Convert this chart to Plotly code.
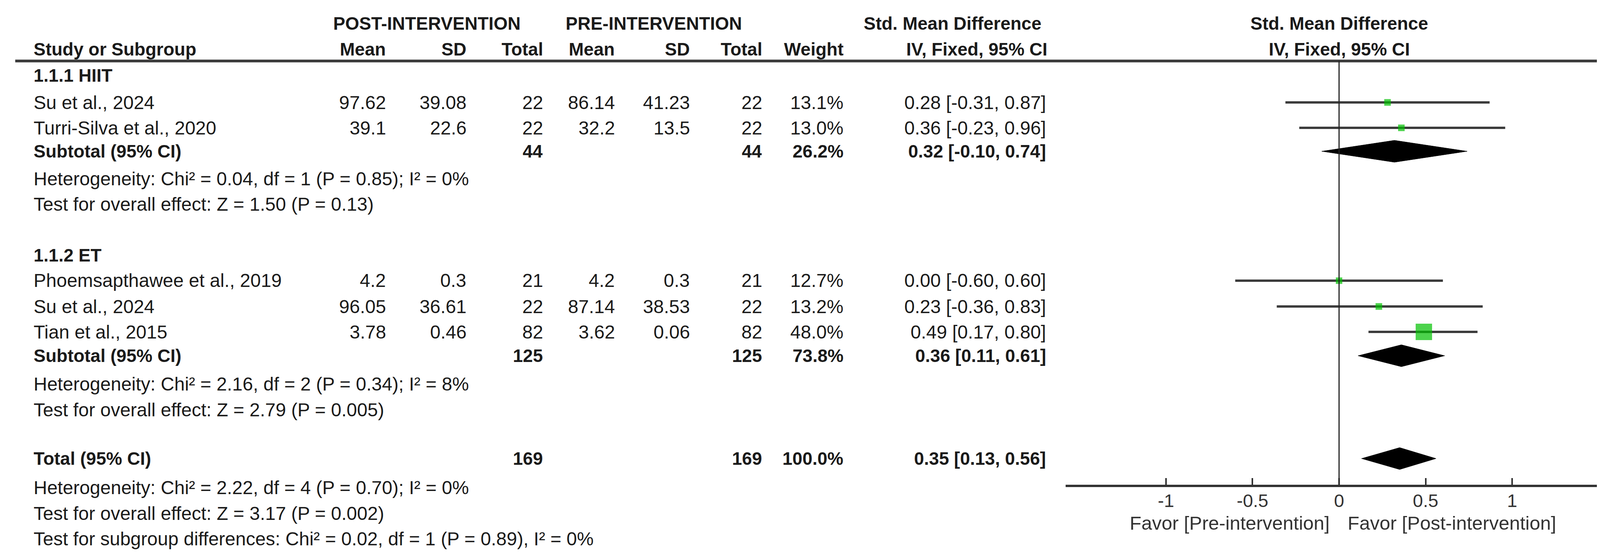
import plotly.graph_objects as go

W, H = 4195, 1430

# ---- data ----
hiit_studies = ["Su et al., 2024", "Turri-Silva et al., 2020"]
hiit_post_mean = [97.62, 39.1]
hiit_post_sd = [39.08, 22.6]
hiit_post_n = [22, 22]
hiit_pre_mean = [86.14, 32.2]
hiit_pre_sd = [41.23, 13.5]
hiit_pre_n = [22, 22]
hiit_weight = [13.1, 13.0]
hiit_smd = [0.28, 0.36]
hiit_lo = [-0.31, -0.23]
hiit_hi = [0.87, 0.96]

et_studies = ["Phoemsapthawee et al., 2019", "Su et al., 2024", "Tian et al., 2015"]
et_post_mean = [4.2, 96.05, 3.78]
et_post_sd = [0.3, 36.61, 0.46]
et_post_n = [21, 22, 82]
et_pre_mean = [4.2, 87.14, 3.62]
et_pre_sd = [0.3, 38.53, 0.06]
et_pre_n = [21, 22, 82]
et_weight = [12.7, 13.2, 48.0]
et_smd = [0.00, 0.23, 0.49]
et_lo = [-0.60, -0.36, 0.17]
et_hi = [0.60, 0.83, 0.80]

pooled_labels = ["Subtotal (95% CI)", "Subtotal (95% CI)", "Total (95% CI)"]
pooled_post_n = [44, 125, 169]
pooled_pre_n = [44, 125, 169]
pooled_weight = [26.2, 73.8, 100.0]
pooled_smd = [0.32, 0.36, 0.35]
pooled_lo = [-0.10, 0.11, 0.13]
pooled_hi = [0.74, 0.61, 0.56]

group_titles = ["1.1.1 HIIT", "1.1.2 ET"]
stats_lines = [
    ["Heterogeneity: Chi² = 0.04, df = 1 (P = 0.85); I² = 0%",
     "Test for overall effect: Z = 1.50 (P = 0.13)"],
    ["Heterogeneity: Chi² = 2.16, df = 2 (P = 0.34); I² = 8%",
     "Test for overall effect: Z = 2.79 (P = 0.005)"],
    ["Heterogeneity: Chi² = 2.22, df = 4 (P = 0.70); I² = 0%",
     "Test for overall effect: Z = 3.17 (P = 0.002)",
     "Test for subgroup differences: Chi² = 0.02, df = 1 (P = 0.89), I² = 0%"],
]

tick_vals = [-1, -0.5, 0, 0.5, 1]
tick_text = ["-1", "-0.5", "0", "0.5", "1"]
favor_left = "Favor [Pre-intervention]"
favor_right = "Favor [Post-intervention]"

# ---- layout (pixel rows / columns) ----
FONT = "Liberation Sans, Arial, sans-serif"
FS = 48      # regular rows
FS_B = 46    # bold rows / headers
TXT = "#1a1a1a"
GREEN = "#00c000"
CI_COL = "#3c3c3c"

hiit_title_y = 185
hiit_rows_y = [254, 319]
et_title_y = 645
et_rows_y = [710, 776, 841]
pooled_y = [379, 902, 1165]
stats_y = [[449, 514], [974, 1040], [1239, 1305, 1370]]
axis_y = 1232
head_line_y = 148

COL_LEFT = 76
COL_POST_MEAN = 982
COL_POST_SD = 1188
COL_POST_N = 1384
COL_PRE_MEAN = 1568
COL_PRE_SD = 1760
COL_PRE_N = 1945
COL_WEIGHT = 2153
COL_CI = 2672

AX_L, AX_R = 2720, 4120
X_MIN, X_MAX = -1.58, 1.58


def px(x):
    return x / W


def py(y):
    return 1 - y / H


annotations = []


def txt(x, y, s, anchor="left", bold=False, size=None, color=TXT):
    if size is None:
        size = FS_B if bold else FS
    if bold:
        s = "<b>" + s + "</b>"
    annotations.append(dict(
        x=px(x), y=py(y), xref="paper", yref="paper", text=s,
        xanchor=anchor, yanchor="middle", showarrow=False,
        font=dict(family=FONT, size=size, color=color),
    ))


def fmt_ci(es, lo, hi):
    return f"{es:.2f} [{lo:.2f}, {hi:.2f}]"


# headers
txt(1085, 52, "POST-INTERVENTION", "center", True)
txt(1666, 52, "PRE-INTERVENTION", "center", True)
txt(2660, 52, "Std. Mean Difference", "right", True)
txt(3420, 52, "Std. Mean Difference", "center", True)
txt(COL_LEFT, 118, "Study or Subgroup", "left", True)
for col, lab in [(COL_POST_MEAN, "Mean"), (COL_POST_SD, "SD"), (COL_POST_N, "Total"),
                 (COL_PRE_MEAN, "Mean"), (COL_PRE_SD, "SD"), (COL_PRE_N, "Total"),
                 (COL_WEIGHT, "Weight"), (2675, "IV, Fixed, 95% CI")]:
    txt(col, 118, lab, "right", True)
txt(3420, 118, "IV, Fixed, 95% CI", "center", True)

groups = [
    (hiit_studies, hiit_post_mean, hiit_post_sd, hiit_post_n, hiit_pre_mean,
     hiit_pre_sd, hiit_pre_n, hiit_weight, hiit_smd, hiit_lo, hiit_hi, hiit_rows_y),
    (et_studies, et_post_mean, et_post_sd, et_post_n, et_pre_mean,
     et_pre_sd, et_pre_n, et_weight, et_smd, et_lo, et_hi, et_rows_y),
]

txt(COL_LEFT, hiit_title_y, group_titles[0], bold=True)
txt(COL_LEFT, et_title_y, group_titles[1], bold=True)

ci_x, ci_y = [], []
pt_x, pt_y, pt_size = [], [], []
for (names, pm, psd, pn, qm, qsd, qn, wt, es, lo, hi, rows) in groups:
    for i, name in enumerate(names):
        y = rows[i]
        txt(COL_LEFT, y, name)
        txt(COL_POST_MEAN, y, str(pm[i]), "right")
        txt(COL_POST_SD, y, str(psd[i]), "right")
        txt(COL_POST_N, y, str(pn[i]), "right")
        txt(COL_PRE_MEAN, y, str(qm[i]), "right")
        txt(COL_PRE_SD, y, str(qsd[i]), "right")
        txt(COL_PRE_N, y, str(qn[i]), "right")
        txt(COL_WEIGHT, y, f"{wt[i]:.1f}%", "right")
        txt(COL_CI, y, fmt_ci(es[i], lo[i], hi[i]), "right")
        ci_x += [lo[i], hi[i], None]
        ci_y += [y, y, None]
        pt_x.append(es[i])
        pt_y.append(y)
        pt_size.append(42 * (wt[i] / 48.0) ** 0.7)

for k, lab in enumerate(pooled_labels):
    y = pooled_y[k]
    txt(COL_LEFT, y, lab, bold=True)
    txt(COL_POST_N, y, str(pooled_post_n[k]), "right", True)
    txt(COL_PRE_N, y, str(pooled_pre_n[k]), "right", True)
    txt(COL_WEIGHT, y, f"{pooled_weight[k]:.1f}%", "right", True)
    txt(COL_CI, y, fmt_ci(pooled_smd[k], pooled_lo[k], pooled_hi[k]), "right", True)

for lines, ys in zip(stats_lines, stats_y):
    for s, y in zip(lines, ys):
        txt(COL_LEFT, y, s)

txt(3398, 1330, favor_left, "right", size=49, color="#333333")
txt(3440, 1330, favor_right, "left", size=49, color="#333333")

fig = go.Figure()

fig.add_trace(go.Scatter(
    x=ci_x, y=ci_y, mode="lines", xaxis="x2", yaxis="y2",
    line=dict(color=CI_COL, width=6), hoverinfo="skip",
))
fig.add_trace(go.Scatter(
    x=pt_x, y=pt_y, mode="markers", xaxis="x2", yaxis="y2",
    marker=dict(symbol="square", size=pt_size, color=GREEN, line=dict(width=0)),
))

HALF_H = 28
for k in range(len(pooled_smd)):
    y = pooled_y[k]
    fig.add_trace(go.Scatter(
        x=[pooled_lo[k], pooled_smd[k], pooled_hi[k], pooled_smd[k], pooled_lo[k]],
        y=[y, y - HALF_H, y, y + HALF_H, y],
        mode="lines", fill="toself", fillcolor="black",
        line=dict(color="black", width=1), xaxis="x2", yaxis="y2",
    ))

shapes = [
    dict(type="line", xref="paper", yref="paper", x0=px(31), x1=px(4162),
         y0=py(head_line_y), y1=py(head_line_y), line=dict(color="#3a3a3a", width=7)),
    dict(type="line", xref="x2", yref="paper", x0=0, x1=0,
         y0=py(head_line_y), y1=py(axis_y), line=dict(color="#222222", width=3)),
]

fig.update_layout(
    width=W, height=H, autosize=False,
    margin=dict(l=0, r=0, t=0, b=0, pad=0),
    paper_bgcolor="white", plot_bgcolor="white",
    showlegend=False,
    annotations=annotations,
    shapes=shapes,
    xaxis2=dict(
        domain=[px(AX_L), px(AX_R)], range=[X_MIN, X_MAX], anchor="y2",
        showgrid=False, zeroline=False, showline=True, linewidth=6, linecolor="#333333",
        ticks="inside", ticklen=17, tickwidth=4, tickcolor="#333333",
        tickvals=tick_vals, ticktext=tick_text, ticklabelstandoff=-5,
        tickfont=dict(family=FONT, size=47, color="#333333"),
    ),
    yaxis2=dict(
        domain=[py(axis_y), 1], range=[axis_y, 0], anchor="x2",
        visible=False, showgrid=False, zeroline=False,
    ),
    xaxis=dict(visible=False),
    yaxis=dict(visible=False),
)

fig.write_html("out.html")
